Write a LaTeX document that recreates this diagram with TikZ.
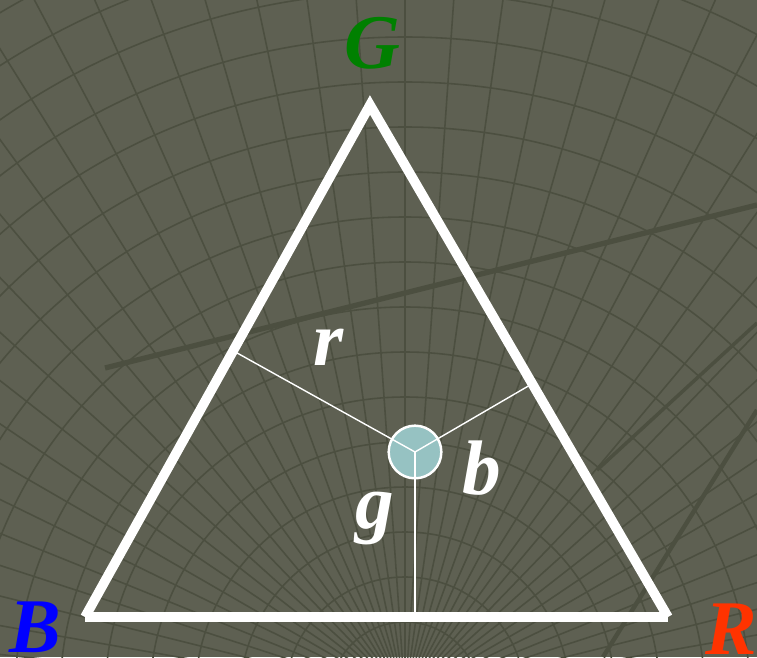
\documentclass[tikz,border=0pt]{standalone}
\usepackage{fontspec}
\setmainfont{Liberation Serif}
\usepackage{xcolor}
\usetikzlibrary{calc}

\definecolor{bgcol}{RGB}{94,96,82}
\definecolor{gridcol}{RGB}{76,79,64}
\definecolor{dotcol}{RGB}{150,194,194}
\definecolor{gcol}{RGB}{0,128,0}
\definecolor{bcol}{RGB}{0,0,255}
\definecolor{rcol}{RGB}{255,51,0}

\begin{document}
\begin{tikzpicture}[x=0.02cm,y=0.02cm,
    lab/.style={font=\fontsize{44}{44}\selectfont\bfseries\itshape},
    side/.style={white,line width=5.5pt},
    leg/.style={white,line width=0.8pt}]
  % background
  \fill[bgcol] (0,0) rectangle (757,657);
  \useasboundingbox (0,0) rectangle (757,657);
  \begin{scope}
    \clip (0,0) rectangle (757,657);
    \coordinate (O) at (405,-40);
    \foreach \r in {75,120,...,930} {\draw[gridcol,line width=0.9pt] (O) circle (\r);}
    \foreach \a in {2,6,...,178} {\draw[gridcol,line width=0.9pt] (O) -- ++(\a:1000);}
    \draw[gridcol,line width=3pt] (105,289) -- (757,452);
    \draw[gridcol,line width=2pt] (597,187) -- (757,334);
    \draw[gridcol,line width=2.5pt] (603,0) -- (757,247);
  \end{scope}
  % triangle
  \coordinate (G) at (370,552);
  \coordinate (B) at (85,40);
  \coordinate (R) at (668,40);
  \draw[side] (B) -- (G) -- (R);
  \draw[side,line width=6.2pt] (B) -- (R);
  % point and distances
  \node[circle,fill=dotcol,draw=white,line width=1.4pt,minimum size=30,inner sep=0] (P) at (415,205) {};
  \coordinate (fr) at ($(B)!(P)!(G)$);
  \coordinate (fb) at ($(G)!(P)!(R)$);
  \coordinate (fg) at ($(B)!(P)!(R)$);
  \draw[leg] (fr) -- (P.center);
  \draw[leg] (fb) -- (P.center);
  \draw[leg] (fg) -- (P.center);
  % labels
  \node[lab,gcol] (lG) at (372,614) {G};
  \node[lab,bcol] (lB) at (35,30) {B};
  \node[lab,rcol] (lR) at (731,28) {R};
  \node[lab,white] (lr) at (329,310) {r};
  \node[lab,white] (lb) at (482,189) {b};
  \node[lab,white] (lg) at (375,138) {g};
\end{tikzpicture}
\end{document}
